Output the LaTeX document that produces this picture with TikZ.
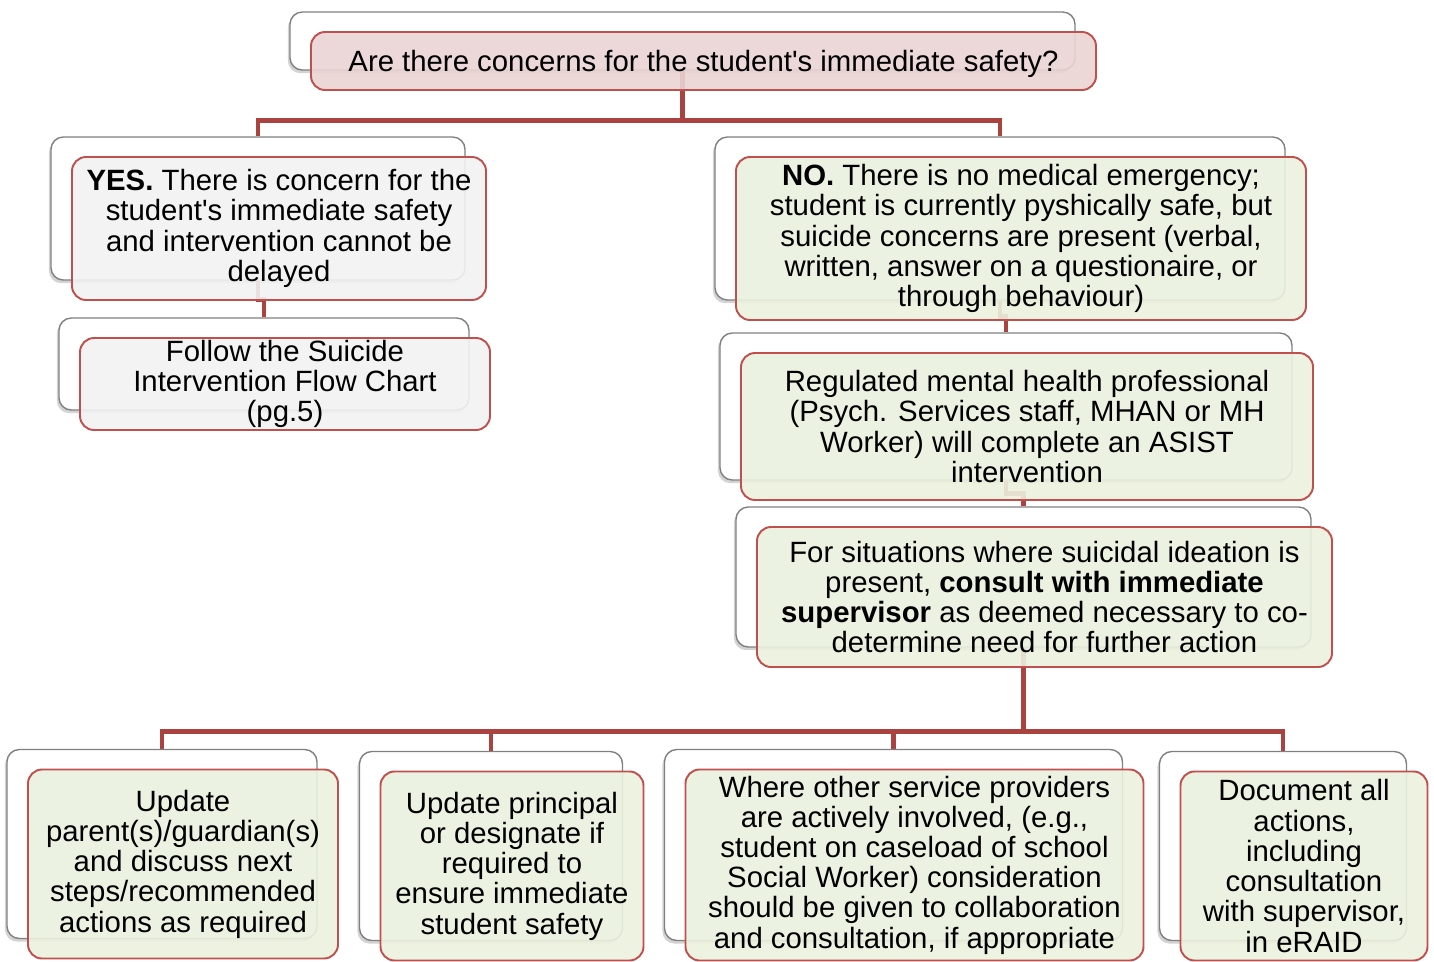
\documentclass[tikz,border=0pt]{standalone}
\usepackage{fontspec}
\setmainfont{Liberation Sans}
\usetikzlibrary{calc,shadows}

\definecolor{boxred}{RGB}{192,80,77}
\definecolor{linkred}{RGB}{170,66,64}
\definecolor{cardgray}{RGB}{128,128,128}
\definecolor{pinkfill}{RGB}{235,212,212}
\definecolor{grayfill}{RGB}{242,242,242}
\definecolor{greenfill}{RGB}{235,241,222}

\pgfdeclarelayer{bg}
\pgfsetlayers{bg,main}

\tikzset{
    sz/.style 2 args={minimum width=#1*0.02cm, minimum height=#2*0.02cm},
    card/.style={draw=cardgray, line width=0.8pt, fill=white, rounded corners=7pt,
        inner sep=0pt, drop shadow={shadow xshift=-1.2pt, shadow yshift=-1.8pt, opacity=0.35}},
    box/.style={draw=boxred, line width=1.1pt, fill opacity=0.9, text opacity=1,
        rounded corners=8pt, inner sep=0pt, align=center,
        font=\fontsize{16.7}{17.2}\selectfont,
        execute at begin node={\rule{0pt}{15pt}}},
    link/.style={draw=linkred, line width=2.8pt},
}

\begin{document}
\begin{tikzpicture}[x=0.02cm, y=-0.02cm]
        \useasboundingbox (0,0) rectangle (1434,961);

        % question
        \node[card, sz={785}{58}] (qc) at (682.5,41) {};
        \node[box, fill=pinkfill, sz={785}{58}] (q) at ($(qc)+(21,20)$)
            {Are there concerns for the student\textquotesingle s immediate safety?};

        % left branch
        \node[card, sz={414}{143}] (yesc) at (258,208.5) {};
        \node[box, fill=grayfill, sz={414}{143}] (yes) at ($(yesc)+(21,20)$)
            {\textbf{YES.} There is concern for the\\ student\textquotesingle s immediate safety\\
             and intervention cannot be\\ delayed};
        \node[card, sz={410}{92}] (chartc) at (264,364) {};
        \node[box, fill=grayfill, sz={410}{92}] (chart) at ($(chartc)+(21,20)$)
            {Follow the Suicide\\ Intervention Flow Chart\\ (pg.5)};

        % right branch
        \node[card, sz={570}{163}] (noc) at (1000,218.5) {};
        \node[box, fill=greenfill, sz={570}{163}] (no) at ($(noc)+(21,20)$)
            {\textbf{NO.} There is no medical emergency;\\ student is currently pyshically safe, but\\
             suicide concerns are present (verbal,\\ written, answer on a questionaire, or\\
             through behaviour)};
        \node[card, sz={572}{147}] (regc) at (1006,406.5) {};
        \node[box, fill=greenfill, sz={572}{147}] (reg) at ($(regc)+(21,20)$)
            {Regulated mental health professional\\ (Psych. Services staff, MHAN or MH\\
             Worker) will complete an ASIST\\ intervention};
        \node[card, sz={575}{140}] (supc) at (1023.5,577) {};
        \node[box, fill=greenfill, sz={575}{140}] (sup) at ($(supc)+(21,20)$)
            {For situations where suicidal ideation is\\ present, \textbf{consult with immediate}\\
             \textbf{supervisor} as deemed necessary to co-\\ determine need for further action};

        % bottom row
        \node[card, sz={310}{189}] (parc) at (162,844) {};
        \node[box, fill=greenfill, sz={310}{189}] (par) at ($(parc)+(21,20)$)
            {Update\\ parent(s)/guardian(s)\\ and discuss next\\ steps/recommended\\ actions as required};
        \node[card, sz={263}{189}] (pric) at (491,846) {};
        \node[box, fill=greenfill, sz={263}{189}] (pri) at ($(pric)+(21,20)$)
            {Update principal\\ or designate if\\ required to\\ ensure immediate\\ student safety};
        \node[card, sz={458}{191}] (svcc) at (893.5,845) {};
        \node[box, fill=greenfill, sz={458}{191}] (svc) at ($(svcc)+(21,20)$)
            {Where other service providers\\ are actively involved, (e.g.,\\ student on caseload of school\\
             Social Worker) consideration\\ should be given to collaboration\\ and consultation, if appropriate};
        \node[card, sz={247}{189}] (docc) at (1283,846) {};
        \node[box, fill=greenfill, sz={247}{189}] (doc) at ($(docc)+(21,20)$)
            {Document all\\ actions,\\ including\\ consultation\\ with supervisor,\\ in eRAID};

        \coordinate (s1) at ($(qc.south)+(0,50)$);
        \coordinate (s2) at ($(supc.south)+(0,84)$);

        \begin{pgfonlayer}{bg}
        \draw[link] (qc.south) -- (s1) -| (yesc.north);
        \draw[link] (s1) -| (noc.north);
        \draw[link] (yesc.south) -- ++(0,19) -| (chartc.north);
        \draw[link] (noc.south) -- ++(0,16) -| (regc.north);
        \draw[link] (regc.south) -- ++(0,13) -| (supc.north);
        \draw[link] (supc.south) -- (s2) -| (parc.north);
        \draw[link] (s2) -| (pric.north);
        \draw[link] (s2) -| (svcc.north);
        \draw[link] (s2) -| (docc.north);
        \end{pgfonlayer}
    \end{tikzpicture}
\end{document}
